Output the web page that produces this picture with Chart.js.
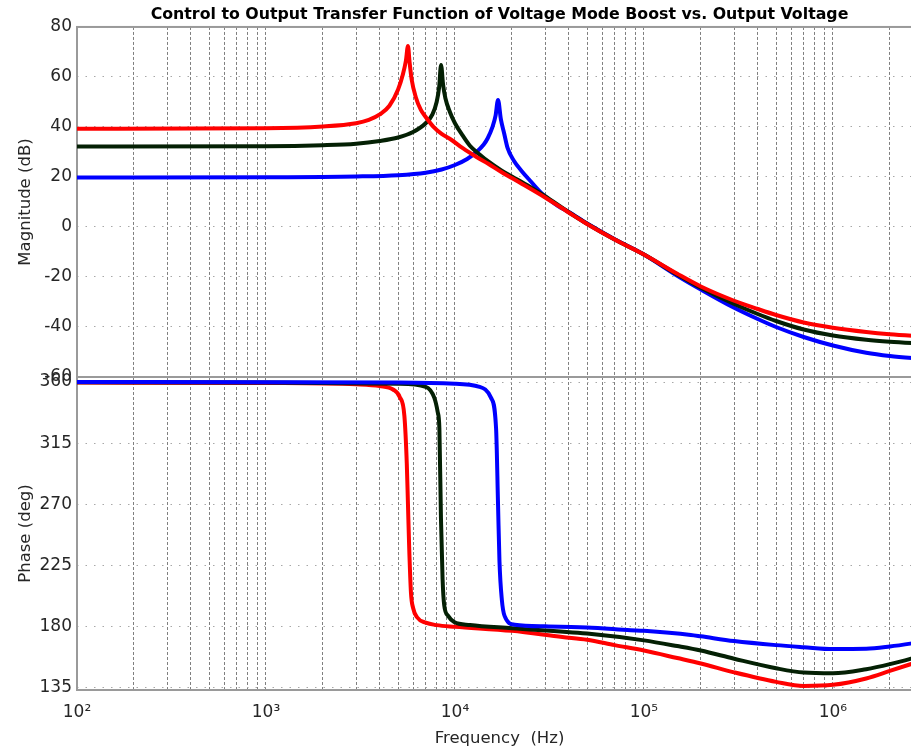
<!doctype html>
<html lang="en"><head>
<meta charset="utf-8"/>
<title>Control to output transfer function</title>
<script src="https://cdn.jsdelivr.net/npm/chart.js@4.4.1/dist/chart.umd.min.js"></script>
<style>
  html,body{margin:0;background:#fff;overflow:hidden}
  body{width:911px;height:749px;position:relative}
  .box{position:absolute;left:0}
  #topBox{top:0}
  #botBox{top:360px}
</style></head>
<body>
<div class="box" id="botBox"><canvas id="cPhase" width="999" height="389"></canvas></div>
<div class="box" id="topBox"><canvas id="cMag" width="999" height="400"></canvas></div>
<script>
// values (Hz, dB, deg)
const TITLE = 'Control to Output Transfer Function of Voltage Mode Boost vs. Output Voltage';
const FREQ_MIN = 100, FREQ_MAX = 2.96e6;
const MAG_TICKS = [-60, -40, -20, 0, 20, 40, 60, 80];
const PHASE_TICKS = [135, 180, 225, 270, 315, 360];

const redMagHz   = [100,1000,2000,3000,3500,4000,4500,5000,5300,5500,5640,5750,5900,6200,6600,7000,7700,8500,9600,11000,13000,15000,17600,20000,22000,30000,40000,50000,70000,100000,150000,200000,300000,400000,500000,700000,1e6,1.5e6,2e6,3e6];
const redMagDb   = [39.3,39.5,40.2,41.5,42.8,45,48.5,55,61,66.5,72.4,66,59,52,46.8,44,40,37.2,34.8,31.5,28,25.3,22,19.6,17.8,11.8,5.8,1.2,-5,-11,-18.7,-23.8,-29.5,-32.8,-35.2,-38.2,-40.3,-42,-42.9,-43.8];

const blackMagHz = [100,1000,2000,3000,4000,5000,6000,7000,7600,8000,8250,8440,8650,8900,9400,10000,11000,12000,13500,15000,17600,20000,25000,30000,40000,50000,70000,100000,150000,200000,300000,400000,500000,700000,1e6,1.5e6,2e6,3e6];
const blackMagDb = [32.2,32.3,32.7,33.3,34.4,35.8,38,41.5,45,50,56,64.8,57,51.5,46,41.5,36.5,32.5,29,26.2,22.6,20.2,16,12.3,5.9,1.3,-5,-11,-19,-24.3,-30.8,-34.8,-37.6,-41,-43.4,-45.1,-45.9,-46.7];

const blueMagHz  = [100,1000,3000,5000,7000,8500,10000,11600,13000,14200,14900,15800,16400,16900,17500,18200,19000,20500,22400,25000,29000,35000,40000,50000,70000,100000,150000,200000,300000,400000,500000,700000,1e6,1.5e6,2e6,3e6];
const blueMagDb  = [19.8,19.9,20.2,20.7,21.7,23,24.8,27.2,30,33,35.5,40,44.5,50.8,43,37.5,31.5,26.5,22.6,18.5,13.2,8.5,6,1.4,-4.9,-11,-19.5,-25,-32.3,-36.8,-40,-44,-47.4,-50.3,-51.6,-52.8];

const redPhHz    = [100,1000,3000,4000,4700,5100,5400,5560,5640,5720,5850,6000,6300,7000,8000,10000,20000,37000,50000,70000,100000,150000,200000,300000,500000,700000,1e6,1.5e6,2e6,3e6];
const redPhDeg   = [359.6,359.3,358.3,357,354.5,349,335,300,270,240,205,194,187,183,181.2,180,177,172.5,170.5,166.5,162.5,157,153,146.5,139.5,136.5,137.3,142,147.5,155.5];

const blackPhHz  = [100,1000,5000,7000,7770,8100,8270,8430,8600,8770,9200,9900,12000,20000,50000,100000,150000,200000,300000,500000,700000,1e6,1.5e6,2e6,3e6];
const blackPhDeg = [359.9,359.7,358.7,356.5,348.5,338,326,260,215,196,188,183.5,181.3,179,175,170,165.8,162.5,156.5,149.5,146.3,145.8,148.8,152.5,159];

const bluePhHz   = [100,1000,5000,10000,13500,15500,16500,16900,17200,17700,18300,20700,30000,50000,85000,100000,177000,200000,300000,500000,700000,1e6,1.5e6,2e6,3e6];
const bluePhDeg  = [360,359.9,359.6,358.8,356.5,348.5,326,270,228,200,188,181.5,180.3,179.5,177.5,177,174,173,169.5,166.5,165,163.6,163.8,165.5,169];

const RED = '#ff0000', BLACK = '#042004', BLUE = '#0000ff';
const INK = '#262626', FRAME = '#9a9a9a';
const SUP = {2:'\u00b2',3:'\u00b3',4:'\u2074',5:'\u2075',6:'\u2076'};

Chart.defaults.font.family = '"DejaVu Sans", Verdana, sans-serif';
Chart.defaults.color = INK;

const pts = (xs, ys) => xs.map((x, i) => ({x, y: ys[i]}));
const line = (xs, ys, color) => ({data: pts(xs, ys), borderColor: color, borderWidth: 4, pointRadius: 0,
  fill: false, cubicInterpolationMode: 'monotone'});

// 1..9 x 10^n grid positions
const logTicks = [];
for (let e = 2; e <= 6; e++) for (let m = 1; m <= 9; m++) { const v = m * Math.pow(10, e); if (v <= FREQ_MAX) logTicks.push(v); }

const frame = {id: 'frame', beforeDatasetsDraw(c) {
  const {ctx, chartArea: a} = c;
  ctx.save(); ctx.strokeStyle = FRAME; ctx.lineWidth = 2;
  ctx.strokeRect(a.left, a.top, a.right - a.left, a.bottom - a.top); ctx.restore();
}};

function xScale(showLabels) {
  return {type: 'logarithmic', min: FREQ_MIN, max: FREQ_MAX,
    afterBuildTicks: s => { s.ticks = logTicks.map(v => ({value: v})); },
    afterFit: s => { s.height = showLabels ? 59 : 0; },
    border: {display: false, dash: [3, 2]},
    grid: {color: '#808080', lineWidth: 1, drawTicks: false},
    ticks: {display: showLabels, autoSkip: false, maxRotation: 0, padding: 12, color: INK, font: {size: 17},
      callback: v => { const e = Math.log10(v); return Math.abs(e - Math.round(e)) < 1e-9 ? '10' + SUP[Math.round(e)] : ''; }},
    title: {display: showLabels, text: 'Frequency  (Hz)', color: INK, font: {size: 16.5}, padding: {top: 0, bottom: 0}}};
}

function yScale(min, max, ticks, label) {
  return {min, max,
    afterBuildTicks: s => { s.ticks = ticks.map(v => ({value: v})); },
    afterFit: s => { s.width = 77; },
    border: {display: false, dash: [1.5, 7]},
    grid: {color: '#a8a8a8', lineWidth: 1, drawTicks: false},
    ticks: {padding: 5, color: INK, font: {size: 17}},
    title: {display: true, text: label, color: INK, font: {size: 16.5}, padding: {top: 16, bottom: 0}}};
}

const base = {responsive: false, devicePixelRatio: 1, animation: false, events: [],
  plugins: {legend: {display: false}, tooltip: {enabled: false}}};

new Chart(document.getElementById('cMag'), {
  type: 'line',
  data: {datasets: [line(redMagHz, redMagDb, RED), line(blackMagHz, blackMagDb, BLACK), line(blueMagHz, blueMagDb, BLUE)]},
  options: {...base,
    layout: {padding: {left: 0, right: 77, top: 0, bottom: 23}},
    plugins: {...base.plugins, title: {display: true, text: TITLE, fullSize: false, color: '#000',
      font: {size: 15.8, weight: 'bold'}, padding: {top: 5, bottom: 3}}},
    scales: {x: xScale(false), y: yScale(-60, 80, MAG_TICKS, 'Magnitude (dB)')}},
  plugins: [frame]
});

new Chart(document.getElementById('cPhase'), {
  type: 'line',
  data: {datasets: [line(bluePhHz, bluePhDeg, BLUE), line(blackPhHz, blackPhDeg, BLACK), line(redPhHz, redPhDeg, RED)]},
  options: {...base,
    layout: {padding: {left: 0, right: 77, top: 17, bottom: 0}},
    scales: {x: xScale(true), y: yScale(133.5, 363.7, PHASE_TICKS, 'Phase (deg)')}},
  plugins: [frame]
});
</script>
</body></html>
